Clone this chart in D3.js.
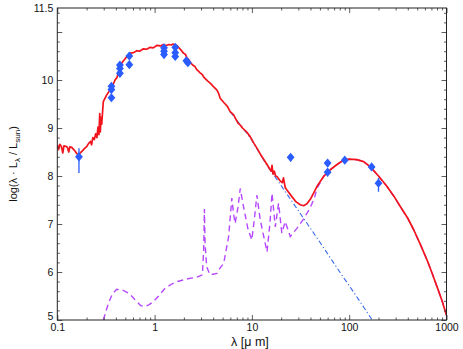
<!DOCTYPE html>
<html>
<head>
<meta charset="utf-8">
<script src="https://cdn.jsdelivr.net/npm/d3@7"></script>
<style>
  body { margin: 0; background: #fff; }
  svg { display: block; font-family: "Liberation Sans", Arial, Helvetica, sans-serif; }
</style>
</head>
<body>
<svg id="chart"></svg>
<script>
// total model SED (red), [lambda in micron, log(lambda L_lambda / L_sun)]
const totalSed = [
  [0.100, 8.65], [0.103, 8.55], [0.106, 8.66], [0.110, 8.62], [0.114, 8.48], [0.117, 8.63],
  [0.122, 8.62], [0.127, 8.60], [0.131, 8.50], [0.135, 8.61], [0.140, 8.60], [0.146, 8.56],
  [0.152, 8.52], [0.158, 8.47], [0.164, 8.44], [0.172, 8.48], [0.180, 8.52], [0.190, 8.57],
  [0.200, 8.61], [0.210, 8.68], [0.220, 8.72], [0.225, 8.65], [0.232, 8.80], [0.240, 8.76],
  [0.248, 8.88], [0.255, 8.80], [0.262, 9.02], [0.268, 8.86], [0.273, 9.30], [0.277, 8.92],
  [0.281, 9.22], [0.286, 9.08], [0.297, 9.55], [0.320, 9.68], [0.348, 9.79], [0.370, 9.88],
  [0.392, 10.00], [0.410, 10.05], [0.440, 10.28], [0.470, 10.38], [0.500, 10.45], [0.560, 10.56],
  [0.610, 10.57], [0.656, 10.61], [0.700, 10.60], [0.768, 10.65], [0.830, 10.64], [0.900, 10.68],
  [0.970, 10.67], [1.05, 10.72], [1.15, 10.71], [1.23, 10.74], [1.32, 10.72], [1.40, 10.74],
  [1.48, 10.73], [1.55, 10.75], [1.69, 10.72], [1.82, 10.65], [1.98, 10.56], [2.08, 10.53],
  [2.15, 10.46], [2.25, 10.42], [2.32, 10.37], [2.50, 10.30], [2.60, 10.28], [2.70, 10.22],
  [2.94, 10.15], [3.10, 10.11], [3.20, 10.06], [3.50, 9.98], [3.80, 9.92], [4.03, 9.86],
  [4.37, 9.79], [4.55, 9.72], [4.72, 9.62], [5.20, 9.52], [5.60, 9.45], [5.98, 9.34],
  [6.47, 9.28], [7.20, 9.10], [7.60, 9.06], [8.00, 9.00], [8.80, 8.92], [9.60, 8.82],
  [10.5, 8.68], [11.5, 8.55], [12.5, 8.42], [14.3, 8.24], [15.2, 8.15], [15.8, 8.10],
  [16.1, 8.22], [16.5, 8.04], [17.0, 8.10], [17.5, 8.00], [18.1, 7.99], [19.5, 7.90],
  [20.5, 7.86], [21.1, 7.96], [22.0, 7.76], [22.9, 7.71], [26.0, 7.56], [28.5, 7.46],
  [31.4, 7.40], [34.0, 7.38], [36.8, 7.42], [40.0, 7.52], [46.6, 7.78], [55.0, 8.00],
  [63.9, 8.13], [75.0, 8.24], [87.5, 8.33], [100, 8.35], [120, 8.34], [140.6, 8.30],
  [165, 8.19], [200, 8.00], [245, 7.78], [290, 7.57], [336, 7.36], [400, 7.12],
  [460, 6.88], [540, 6.57], [631, 6.25], [710, 5.98], [800, 5.69], [900, 5.40], [1000, 5.10]
];

// dust emission component (purple dashed)
const dustSed = [
  [0.297, 5.00], [0.335, 5.35], [0.370, 5.55], [0.408, 5.64], [0.470, 5.62], [0.537, 5.56],
  [0.600, 5.47], [0.656, 5.38], [0.720, 5.30], [0.797, 5.28], [0.880, 5.32], [0.970, 5.38],
  [1.10, 5.50], [1.28, 5.66], [1.50, 5.75], [1.69, 5.80], [2.20, 5.86], [2.71, 5.89],
  [3.10, 5.94], [3.20, 6.50], [3.25, 7.31], [3.30, 6.60], [3.43, 6.11], [3.71, 5.94],
  [4.37, 5.97], [4.70, 6.08], [5.13, 6.18], [5.77, 6.74], [6.22, 7.54], [6.47, 7.22],
  [6.72, 7.01], [7.20, 7.35], [7.59, 7.74], [8.20, 7.36], [9.10, 6.90], [9.98, 6.67],
  [10.6, 7.10], [11.25, 7.60], [12.2, 7.08], [14.3, 6.42], [15.3, 7.00], [16.1, 7.64],
  [17.4, 6.94], [18.8, 7.43], [20.3, 6.81], [22.0, 7.05], [24.8, 6.74], [29.0, 6.91],
  [33.9, 7.10], [40.0, 7.35], [44.0, 7.55], [46.6, 7.74], [55.0, 8.00], [63.9, 8.13],
  [75.0, 8.24], [87.5, 8.33], [100, 8.35], [120, 8.34], [140.6, 8.30], [165, 8.19],
  [200, 8.00], [245, 7.78], [290, 7.57], [336, 7.36], [400, 7.12], [460, 6.88],
  [540, 6.57], [631, 6.25], [710, 5.98], [800, 5.69], [900, 5.40], [1000, 5.10]
];

// stellar component (blue dash-dot)
const starSed = [
  [5.98, 9.34], [9.60, 8.80], [14.3, 8.22], [20.0, 7.80], [31.4, 7.22], [50.0, 6.62],
  [80.0, 6.00], [120, 5.48], [160, 5.10], [172, 5.00]
];

// photometry (blue diamonds)
const photLam = [0.167, 0.36, 0.36, 0.36, 0.44, 0.44, 0.44, 0.55, 0.55, 1.25, 1.25, 1.25,
  1.63, 1.63, 1.63, 2.12, 2.20, 25, 60, 60, 90, 170, 200];
const photVal = [8.40, 9.87, 9.80, 9.63, 10.31, 10.24, 10.14, 10.50, 10.32, 10.67, 10.60, 10.53,
  10.68, 10.57, 10.49, 10.40, 10.36, 8.39, 8.27, 8.08, 8.33, 8.19, 7.85];
const photErrLo = [0.34, 0.03, 0.03, 0.03, 0.03, 0.03, 0.03, 0.03, 0.03, 0.03, 0.03, 0.03,
  0.03, 0.03, 0.03, 0.03, 0.03, 0.09, 0.05, 0.09, 0.03, 0.04, 0.18];
const photErrHi = [0.18, 0.03, 0.03, 0.03, 0.03, 0.03, 0.03, 0.03, 0.03, 0.03, 0.03, 0.03,
  0.03, 0.03, 0.03, 0.03, 0.03, 0.03, 0.05, 0.05, 0.03, 0.04, 0.11];

const xMajor = [0.1, 1, 10, 100, 1000];
const yLabels = [5, 6, 7, 8, 9, 10, 11.5];
const yMajor = [5, 6, 7, 8, 9, 10, 11];

const width = 463;
const height = 349;
const margin = { top: 8, right: 16.5, bottom: 29, left: 57.3 };

const svg = d3.select("#chart").attr("width", width).attr("height", height);

const x = d3.scaleLog().domain([0.1, 1000]).range([margin.left, width - margin.right]);
const y = d3.scaleLinear().domain([5, 11.5]).range([height - margin.bottom, margin.top]);

// minor ticks
const xMinor = [];
xMajor.slice(0, -1).forEach(d => {
  for (let k = 2; k <= 9; k++) xMinor.push(d * k);
});
const yMinor = d3.range(26, 58).map(d => d / 5).filter(d => Math.abs(d - Math.round(d)) > 0.01);

svg.append("defs").append("clipPath").attr("id", "plot")
  .append("rect")
  .attr("x", margin.left).attr("y", margin.top)
  .attr("width", width - margin.left - margin.right)
  .attr("height", height - margin.top - margin.bottom);

const line = d3.line().x(d => x(d[0])).y(d => y(d[1]));

const plot = svg.append("g").attr("clip-path", "url(#plot)");

plot.append("path")
  .datum(starSed)
  .attr("d", line)
  .attr("fill", "none")
  .attr("stroke", "#3566f0")
  .attr("stroke-width", 1.1)
  .attr("stroke-dasharray", "5,2.5,1.2,2.5");

plot.append("path")
  .datum(dustSed)
  .attr("d", line)
  .attr("fill", "none")
  .attr("stroke", "#b548ff")
  .attr("stroke-width", 1.4)
  .attr("stroke-dasharray", "6,4");

plot.append("path")
  .datum(totalSed)
  .attr("d", line)
  .attr("fill", "none")
  .attr("stroke", "#f2141c")
  .attr("stroke-width", 1.7)
  .attr("stroke-linejoin", "round");

// photometry with error bars
const phot = photLam.map((d, i) => ({ lam: d, val: photVal[i], lo: photErrLo[i], hi: photErrHi[i] }));

plot.selectAll("line.err")
  .data(phot)
  .join("line")
  .attr("class", "err")
  .attr("x1", d => x(d.lam)).attr("x2", d => x(d.lam))
  .attr("y1", d => y(d.val - d.lo)).attr("y2", d => y(d.val + d.hi))
  .attr("stroke", "#2a5cff")
  .attr("stroke-width", 1.3);

plot.selectAll("path.pt")
  .data(phot)
  .join("path")
  .attr("class", "pt")
  .attr("d", "M0,-4.6L3.9,0L0,4.6L-3.9,0Z")
  .attr("transform", d => `translate(${x(d.lam)},${y(d.val)})`)
  .attr("fill", "#2a5cff");

// axes, ticks inward
const fmt = d => (d < 1 ? "0.1" : String(d));
const bottom = height - margin.bottom;
const right = width - margin.right;

svg.append("g").attr("transform", `translate(0,${bottom})`)
  .call(d3.axisBottom(x).tickValues(xMajor).tickFormat(fmt).tickSizeInner(-5).tickSizeOuter(0).tickPadding(4));
svg.append("g").attr("transform", `translate(0,${bottom})`)
  .call(d3.axisBottom(x).tickValues(xMinor).tickFormat("").tickSizeInner(-2.5).tickSizeOuter(0));
svg.append("g").attr("transform", `translate(0,${margin.top})`)
  .call(d3.axisTop(x).tickValues(xMajor).tickFormat("").tickSizeInner(-5).tickSizeOuter(0));
svg.append("g").attr("transform", `translate(0,${margin.top})`)
  .call(d3.axisTop(x).tickValues(xMinor).tickFormat("").tickSizeInner(-2.5).tickSizeOuter(0));

const gyl = svg.append("g").attr("transform", `translate(${margin.left},0)`)
  .call(d3.axisLeft(y).tickValues(yLabels).tickFormat(d => d).tickSizeInner(0).tickSizeOuter(0).tickPadding(4));
svg.append("g").attr("transform", `translate(${margin.left},0)`)
  .call(d3.axisLeft(y).tickValues(yMajor).tickFormat("").tickSizeInner(-5).tickSizeOuter(0));
svg.append("g").attr("transform", `translate(${margin.left},0)`)
  .call(d3.axisLeft(y).tickValues(yMinor).tickFormat("").tickSizeInner(-2.5).tickSizeOuter(0));
svg.append("g").attr("transform", `translate(${right},0)`)
  .call(d3.axisRight(y).tickValues(yMajor).tickFormat("").tickSizeInner(-5).tickSizeOuter(0));
svg.append("g").attr("transform", `translate(${right},0)`)
  .call(d3.axisRight(y).tickValues(yMinor).tickFormat("").tickSizeInner(-2.5).tickSizeOuter(0));

svg.selectAll(".domain").remove();
svg.selectAll(".tick line").attr("stroke", "#333").attr("stroke-width", 0.8);
svg.selectAll(".tick text").attr("font-size", 10.5).attr("fill", "#111")
  .attr("font-family", "'Liberation Sans', Arial, sans-serif");
// the lowest y label sits just above the corner, clear of "0.1"
gyl.selectAll(".tick text").filter(d => d === 5).attr("dy", "-0.05em");

svg.append("rect")
  .attr("x", margin.left).attr("y", margin.top)
  .attr("width", right - margin.left)
  .attr("height", bottom - margin.top)
  .attr("fill", "none")
  .attr("stroke", "#222")
  .attr("stroke-width", 1);

// axis titles
svg.append("text")
  .attr("x", (margin.left + right) / 2 - 2)
  .attr("y", height - 3)
  .attr("text-anchor", "middle")
  .attr("font-size", 12.5)
  .attr("fill", "#111")
  .text("λ [μ m]");

const yt = svg.append("text")
  .attr("transform", `translate(17,${(margin.top + bottom) / 2}) rotate(-90)`)
  .attr("text-anchor", "middle")
  .attr("font-size", 11)
  .attr("fill", "#111");
yt.append("tspan").text("log(λ · L");
yt.append("tspan").attr("font-size", 8).attr("dy", 3).text("λ");
yt.append("tspan").attr("dy", -3).text(" / L");
yt.append("tspan").attr("font-size", 8).attr("dy", 3).text("sun");
yt.append("tspan").attr("dy", -3).text(")");
</script>
</body>
</html>
